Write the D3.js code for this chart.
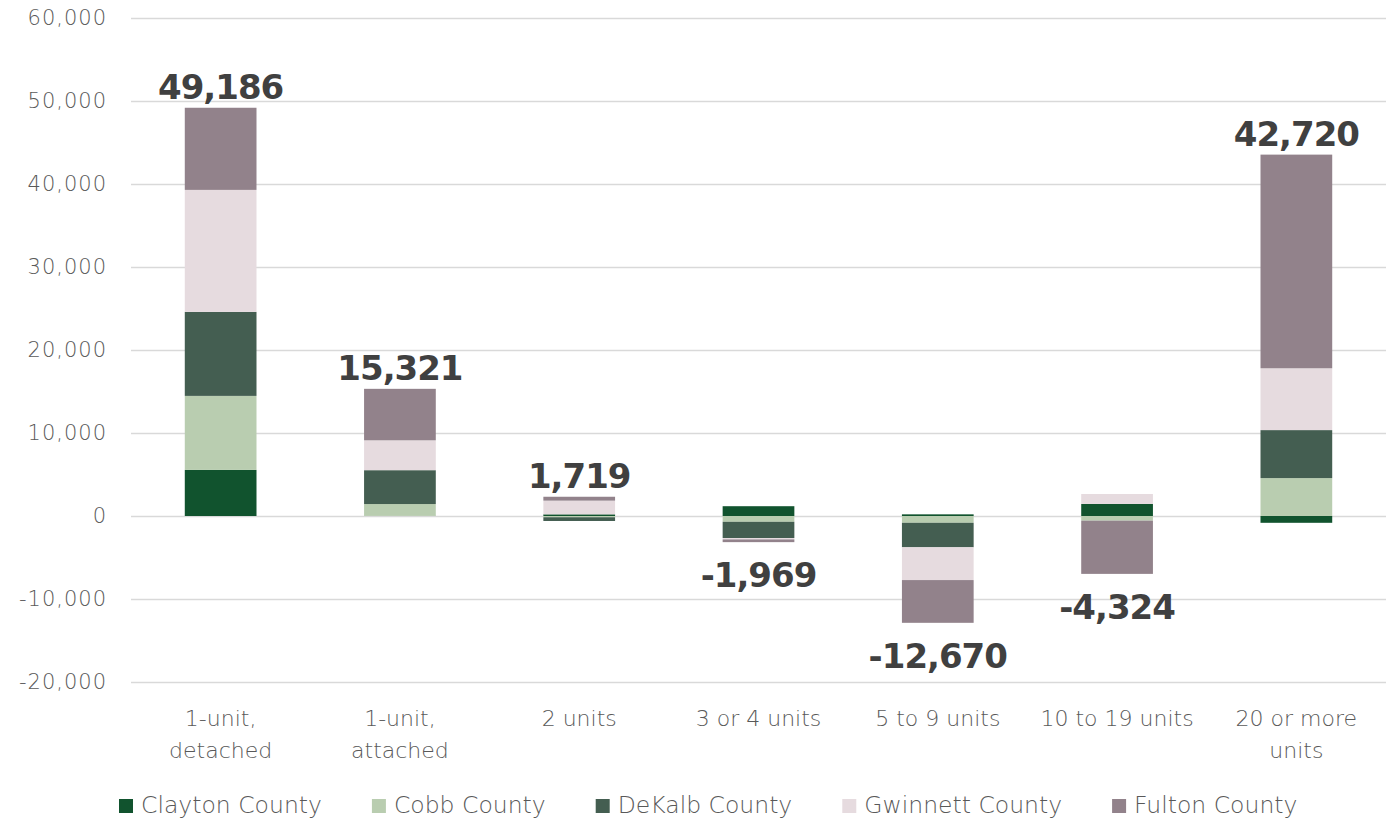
<!DOCTYPE html>
<html>
<head>
<meta charset="utf-8">
<script src="https://cdn.jsdelivr.net/npm/d3@7"></script>
<style>
  html, body { margin: 0; padding: 0; background: #fff; }
  svg { display: block; }
</style>
</head>
<body>
<svg id="chart" width="1391" height="819"></svg>
<script>
// ---- Data ----
const categories = [
  ["1-unit,", "detached"],
  ["1-unit,", "attached"],
  ["2 units"],
  ["3 or 4 units"],
  ["5 to 9 units"],
  ["10 to 19 units"],
  ["20 or more", "units"]
];
const seriesNames = ["Clayton County", "Cobb County", "DeKalb County", "Gwinnett County", "Fulton County"];
const clayton  = [5550,   20,  200,  1180,   200,  1450,  -820];
const cobb     = [8920, 1420, -150,  -700,  -820,  -560,  4570];
const dekalb   = [10120, 4080, -450, -1950, -2950,    0,  5780];
const gwinnett = [14700, 3600, 1650,  -170, -3950,  1200,  7450];
const fulton   = [9896, 6201,  469,  -329, -5150, -6414, 25740];
const totals   = [49186, 15321, 1719, -1969, -12670, -4324, 42720];
const yTicks   = [-20000, -10000, 0, 10000, 20000, 30000, 40000, 50000, 60000];
const colors   = ["#11532e", "#b9cdb0", "#445e51", "#e6dbdf", "#92828b"];

// ---- Build table ----
const seriesValues = [clayton, cobb, dekalb, gwinnett, fulton];
const table = categories.map((c, i) => {
  const row = { key: i };
  seriesNames.forEach((s, j) => row[s] = seriesValues[j][i]);
  return row;
});

const fmt = d3.formatLocale({decimal: ".", thousands: ",", grouping: [3], currency: ["$", ""], minus: "-"}).format(",");

const svg = d3.select("#chart");
const plot = { left: 131, right: 1386, top: 18, bottom: 682 };

const x = d3.scaleBand()
  .domain(d3.range(categories.length))
  .range([plot.left, plot.right])
  .paddingInner(0.6)
  .paddingOuter(0.3);

const y = d3.scaleLinear()
  .domain([-20000, 60000])
  .range([plot.bottom, plot.top]);

const axisFont = "'DejaVu Sans', sans-serif";
const textGrey = "#595959";

// gridlines + y labels via axis
const yAxis = d3.axisLeft(y)
  .tickValues(yTicks)
  .tickSize(-(plot.right - plot.left))
  .tickPadding(24)
  .tickFormat(fmt);

const gy = svg.append("g")
  .attr("transform", `translate(${plot.left},0)`)
  .call(yAxis);
gy.select(".domain").remove();
gy.selectAll(".tick line").attr("stroke", "#d9d9d9").attr("stroke-width", 1.5);
gy.selectAll(".tick text")
  .attr("fill", textGrey)
  .style("font-family", axisFont)
  .style("font-size", "21px")
  .style("letter-spacing", "1px")
  .style("font-weight", 300);

// stacked bars
const stack = d3.stack()
  .keys(seriesNames)
  .offset(d3.stackOffsetDiverging);
const stacked = stack(table);

svg.append("g").selectAll("g")
  .data(stacked)
  .join("g")
  .attr("fill", (d, i) => colors[i])
  .selectAll("rect")
  .data(d => d)
  .join("rect")
  .attr("x", (d, i) => x(i))
  .attr("width", x.bandwidth())
  .attr("y", d => y(Math.max(d[0], d[1])))
  .attr("height", d => Math.abs(y(d[0]) - y(d[1])));

// total labels
const extents = table.map((row, i) => {
  let top = 0, bot = 0;
  stacked.forEach(s => { top = Math.max(top, s[i][1], s[i][0]); bot = Math.min(bot, s[i][0], s[i][1]); });
  return [bot, top];
});

svg.append("g").selectAll("text")
  .data(totals)
  .join("text")
  .attr("x", (d, i) => x(i) + x.bandwidth() / 2)
  .attr("y", (d, i) => d >= 0 ? y(extents[i][1]) - 9 : y(extents[i][0]) + 45)
  .attr("text-anchor", "middle")
  .attr("fill", "#404040")
  .style("font-family", axisFont)
  .style("font-weight", "bold")
  .style("font-size", "34px")
  .style("letter-spacing", "-1px")
  .text(d => fmt(d));

// x labels
const xl = svg.append("g").selectAll("text")
  .data(categories)
  .join("text")
  .attr("x", (d, i) => x(i) + x.bandwidth() / 2)
  .attr("y", 726)
  .attr("text-anchor", "middle")
  .attr("fill", textGrey)
  .style("font-family", axisFont)
  .style("font-size", "22px")
  .style("font-weight", 300);
xl.selectAll("tspan")
  .data(d => d)
  .join("tspan")
  .attr("x", function() { return this.parentNode.getAttribute("x"); })
  .attr("dy", (d, i) => i === 0 ? 0 : 32)
  .text(d => d);

// legend
const lg = svg.append("g");
const items = lg.selectAll("g").data(seriesNames).join("g");
items.append("rect")
  .attr("width", 14).attr("height", 14)
  .attr("y", 799)
  .attr("fill", (d, i) => colors[i]);
items.append("text")
  .attr("x", 22).attr("y", 813)
  .attr("fill", textGrey)
  .style("font-family", axisFont)
  .style("font-size", "23.5px")
  .style("font-weight", 300)
  .text(d => d);
const gap = 50;
const widths = [];
items.each(function() { widths.push(this.getBBox().width); });
let cx = 119;
items.attr("transform", (d, i) => {
  const t = `translate(${cx},0)`;
  cx += widths[i] + gap;
  return t;
});
</script>
</body>
</html>
